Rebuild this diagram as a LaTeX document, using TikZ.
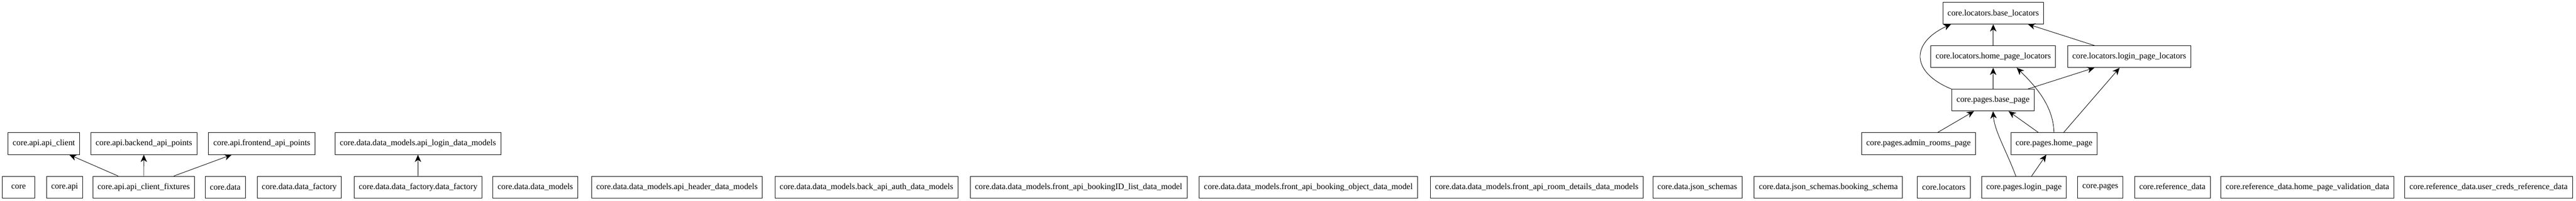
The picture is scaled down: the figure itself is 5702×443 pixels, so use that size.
\documentclass[tikz,border=0pt]{standalone}
\usepackage{fontspec}
\setmainfont{Liberation Serif}
\usetikzlibrary{arrows.meta}

\begin{document}
\begin{tikzpicture}[x=0.75pt,y=-0.75pt,
	mod/.style={draw,line width=0.75pt,minimum height=36pt,minimum width=54pt,inner xsep=7.9pt,font=\fontsize{14}{17}\selectfont},
	dep/.style={line width=0.75pt,-{Stealth[length=12pt,width=10.5pt,inset=3.5pt]}}]
	\useasboundingbox (0,0) rectangle (5702,443);
	% bottom row
	\node[mod] (core) at (41,413) {core};
	\node[mod] (core_api) at (143,413) {core.api};
	\node[mod] (api_client_fixtures) at (318,413) {core.api.api\_client\_fixtures};
	\node[mod] (core_data) at (498.5,413) {core.data};
	\node[mod] (data_factory) at (662.5,413) {core.data.data\_factory};
	\node[mod] (data_factory_df) at (925.5,413) {core.data.data\_factory.data\_factory};
	\node[mod] (data_models) at (1185,413) {core.data.data\_models};
	\node[mod] (api_header) at (1498.5,413) {core.data.data\_models.api\_header\_data\_models};
	\node[mod] (back_api_auth) at (1918,413) {core.data.data\_models.back\_api\_auth\_data\_models};
	\node[mod] (bookingID_list) at (2387.5,413) {core.data.data\_models.front\_api\_bookingID\_list\_data\_model};
	\node[mod] (booking_object) at (2896,413) {core.data.data\_models.front\_api\_booking\_object\_data\_model};
	\node[mod] (room_details) at (3401.5,413) {core.data.data\_models.front\_api\_room\_details\_data\_models};
	\node[mod] (json_schemas) at (3757,413) {core.data.json\_schemas};
	\node[mod] (booking_schema) at (4047,413) {core.data.json\_schemas.booking\_schema};
	\node[mod] (core_locators) at (4302.5,413) {core.locators};
	\node[mod] (login_page) at (4480,413) {core.pages.login\_page};
	\node[mod] (core_pages) at (4649,413) {core.pages};
	\node[mod] (reference_data) at (4808.5,413) {core.reference\_data};
	\node[mod] (validation_data) at (5107.5,413) {core.reference\_data.home\_page\_validation\_data};
	\node[mod] (user_creds) at (5508.5,413) {core.reference\_data.user\_creds\_reference\_data};
	% upper rows
	\node[mod] (api_client) at (97,317) {core.api.api\_client};
	\node[mod] (backend_api) at (318.5,317) {core.api.backend\_api\_points};
	\node[mod] (frontend_api) at (579.5,317) {core.api.frontend\_api\_points};
	\node[mod] (api_login) at (925,317) {core.data.data\_models.api\_login\_data\_models};
	\node[mod] (admin_rooms) at (4246.5,317) {core.pages.admin\_rooms\_page};
	\node[mod] (home_page) at (4546.5,317) {core.pages.home\_page};
	\node[mod] (base_page) at (4411.5,221) {core.pages.base\_page};
	\node[mod] (home_locators) at (4412,125) {core.locators.home\_page\_locators};
	\node[mod] (login_locators) at (4713,125) {core.locators.login\_page\_locators};
	\node[mod] (base_locators) at (4412,29) {core.locators.base\_locators};
	% imports
	\draw[dep] (api_client_fixtures) -- (api_client);
	\draw[dep] (api_client_fixtures) -- (backend_api);
	\draw[dep] (api_client_fixtures) -- (frontend_api);
	\draw[dep] (data_factory_df) -- (api_login);
	\draw[dep] (base_page.north west) .. controls (4230,160) and (4228,95) .. ([xshift=14pt]base_locators.south west);
	\draw[dep] (home_locators) -- (base_locators);
	\draw[dep] (login_locators) -- (base_locators);
	\draw[dep] (base_page) -- (home_locators);
	\draw[dep] (base_page) -- (login_locators);
	\draw[dep] (admin_rooms) -- (base_page);
	\draw[dep] (home_page) -- (base_page);
	\draw[dep] (home_page.north) .. controls (4545,230) and (4500,185) .. ([xshift=39pt]home_locators.south);
	\draw[dep] (home_page) -- (login_locators);
	\draw[dep] ([xshift=-13.5pt]login_page.north) .. controls (4440,330) and (4415,290) .. (base_page.south);
	\draw[dep] (login_page) -- (home_page);
\end{tikzpicture}
\end{document}
